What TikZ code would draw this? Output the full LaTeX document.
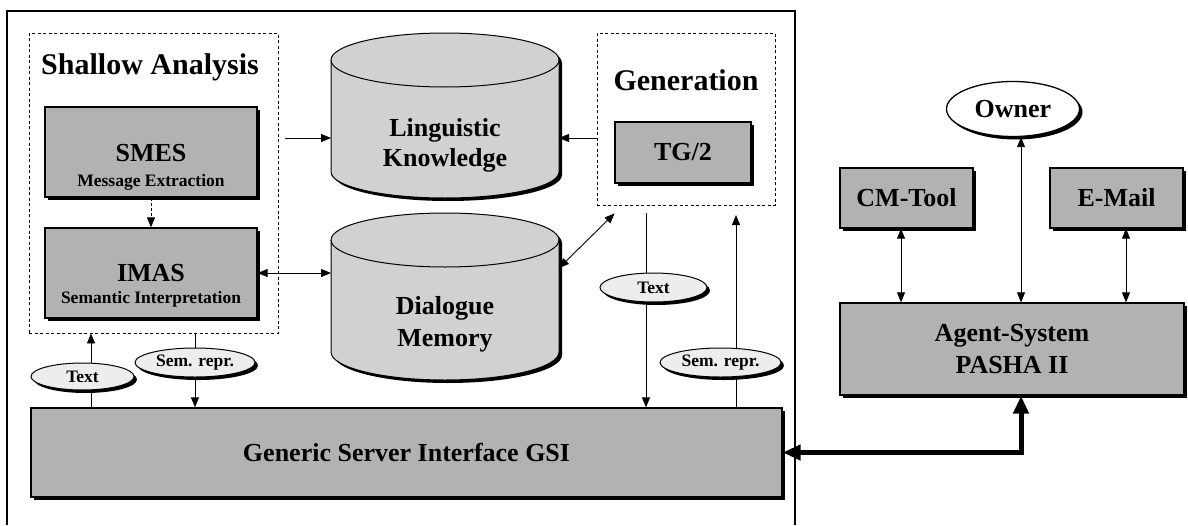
\documentclass[tikz,border=0pt]{standalone}
\usepackage{fontspec}
\setmainfont{Liberation Serif}
\usetikzlibrary{arrows.meta, shapes.geometric, shadows}

\definecolor{boxgray}{gray}{0.70}
\definecolor{cylgray}{gray}{0.82}
\definecolor{ovalgray}{gray}{0.93}

\newcommand{\fHead}{\fontsize{30}{34}\selectfont\bfseries}
\newcommand{\fMain}{\fontsize{26}{30}\selectfont\bfseries}
\newcommand{\fSub}{\fontsize{17.5}{20}\selectfont\bfseries}

\tikzset{
  box/.style={draw, line width=1.3pt, fill=boxgray, inner sep=0pt,
    drop shadow={shadow xshift=3pt, shadow yshift=-3pt, fill=black, opacity=1}},
  group/.style={draw, line width=0.9pt, dash pattern=on 3pt off 2.5pt, inner sep=0pt},
  oval/.style={ellipse, draw, line width=1pt, fill=ovalgray, inner sep=0pt, font=\fSub,
    drop shadow={shadow xshift=3pt, shadow yshift=-3pt, fill=black, opacity=1}},
  arr/.style={-{Triangle[length=10pt,width=8pt]}, line width=0.9pt},
  arrtwo/.style={{Triangle[length=10pt,width=8pt]}-{Triangle[length=10pt,width=8pt]}, line width=0.9pt},
  bigarr/.style={{Triangle[length=18pt,width=15pt]}-{Triangle[length=18pt,width=15pt]}, line width=5pt},
}

\begin{document}
\begin{tikzpicture}[x=1pt, y=-1pt]
  \useasboundingbox (0,0) rectangle (1188,525);

  % frame of the dialogue system
  \draw[line width=1.2pt] (7,525) -- (7,11) -- (795,11) -- (795,525);

  % groups
  \node[group, minimum width=249pt, minimum height=300pt] (sa) at (153.5,183) {};
  \node[group, minimum width=178pt, minimum height=172pt] (gen) at (686,119) {};
  \node[font=\fHead] (saT) at (150,67) {Shallow Analysis};
  \node[font=\fHead] (genT) at (686,80) {Generation};

  % modules
  \node[box, minimum width=212pt, minimum height=90pt] (smes) at (151,152) {};
  \node[font=\fMain] (smesT) at (151,153) {SMES};
  \node[font=\fSub] (smesS) at (151,182) {Message Extraction};

  \node[box, minimum width=212pt, minimum height=90pt] (imas) at (151,273) {};
  \node[font=\fMain] (imasT) at (151,273) {IMAS};
  \node[font=\fSub] (imasS) at (151,299) {Semantic Interpretation};

  \node[box, font=\fMain, minimum width=136pt, minimum height=61pt] (tg) at (683,152.5) {TG/2};
  \node[box, font=\fMain, minimum width=751pt, minimum height=89pt] (gsi) at (406.5,452.5) {Generic Server Interface GSI};

  % linguistic knowledge
  \begin{scope}[shift={(3,3)}]
    \fill (331,60) -- (331,172) arc[start angle=180, end angle=360, x radius=114pt, y radius=26pt]
      -- (559,60) arc[start angle=0, end angle=180, x radius=114pt, y radius=27pt] -- cycle;
  \end{scope}
  \filldraw[fill=cylgray, line width=1pt] (331,60) -- (331,172)
    arc[start angle=180, end angle=360, x radius=114pt, y radius=26pt]
    -- (559,60) arc[start angle=0, end angle=180, x radius=114pt, y radius=27pt] -- cycle;
  \draw[line width=1pt] (331,60) arc[start angle=180, end angle=360, x radius=114pt, y radius=27pt];
  \node[font=\fMain, align=center] (lk) at (445,145) {Linguistic\\Knowledge};

  % dialogue memory
  \begin{scope}[shift={(3,3)}]
    \fill (331,240) -- (331,352) arc[start angle=180, end angle=360, x radius=114pt, y radius=28pt]
      -- (559,240) arc[start angle=0, end angle=180, x radius=114pt, y radius=27pt] -- cycle;
  \end{scope}
  \filldraw[fill=cylgray, line width=1pt] (331,240) -- (331,352)
    arc[start angle=180, end angle=360, x radius=114pt, y radius=28pt]
    -- (559,240) arc[start angle=0, end angle=180, x radius=114pt, y radius=27pt] -- cycle;
  \draw[line width=1pt] (331,240) arc[start angle=180, end angle=360, x radius=114pt, y radius=27pt];
  \node[font=\fMain, align=center] (dm) at (445,324) {Dialogue\\[2pt]Memory};

  \coordinate (lkW) at (331,138);
  \coordinate (lkE) at (559,138);
  \coordinate (dmW) at (331,273);
  \coordinate (dmE) at (559,268);
  \coordinate (txtA) at (646,213);
  \coordinate (semA) at (736,215);

  % agent side
  \node[box, font=\fMain, minimum width=133pt, minimum height=60pt] (cm) at (906.5,198) {CM-Tool};
  \node[box, font=\fMain, minimum width=133pt, minimum height=60pt] (em) at (1116.5,198) {E-Mail};
  \node[box, font=\fMain, align=center, minimum width=344pt, minimum height=92pt] (agent) at (1012,349) {Agent-System\\[2pt]PASHA II};
  \node[oval, fill=white, font=\fMain, line width=1.3pt, minimum width=133pt, minimum height=55pt] (owner) at (1013,109) {Owner};

  % connectors
  \draw[arr] ([xshift=7pt]sa.east |- lkW) -- (lkW);
  \draw[arr] (gen.west |- lkE) -- (lkE);
  \draw[arr, dash pattern=on 3pt off 2pt] (smes.south) -- (imas.north);
  \draw[arrtwo] (imas.east) -- (dmW);
  \draw[arrtwo] (dmE) -- ([xshift=18pt,yshift=-8pt]gen.south west);
  \draw[arr] (txtA) -- (txtA |- gsi.north);
  \draw[arr] (semA |- gsi.north) -- (semA);
  \draw[arr] (91,0 |- gsi.north) -- (91,0 |- sa.south);
  \draw[arr] (195,0 |- sa.south) -- (195,0 |- gsi.north);

  \draw[arrtwo] ([xshift=-5.5pt]cm.south) -- ([xshift=-5.5pt]cm.south |- agent.north);
  \draw[arrtwo] ([xshift=9pt]agent.north) -- ([xshift=9pt]agent.north |- owner.south);
  \draw[arrtwo] ([xshift=9.5pt]em.south) -- ([xshift=9.5pt]em.south |- agent.north);
  \draw[bigarr] ([xshift=9pt]agent.south) |- (gsi.east);

  % data on the lines
  \node[oval, minimum width=103pt, minimum height=27pt] (txL) at (82.5,376.5) {Text};
  \node[oval, minimum width=120pt, minimum height=29pt] (semL) at (195,362.5) {Sem. repr.};
  \node[oval, minimum width=107pt, minimum height=29pt] (txR) at (653.5,287.5) {Text};
  \node[oval, minimum width=121pt, minimum height=29pt] (semR) at (720.5,362.5) {Sem. repr.};
\end{tikzpicture}
\end{document}
